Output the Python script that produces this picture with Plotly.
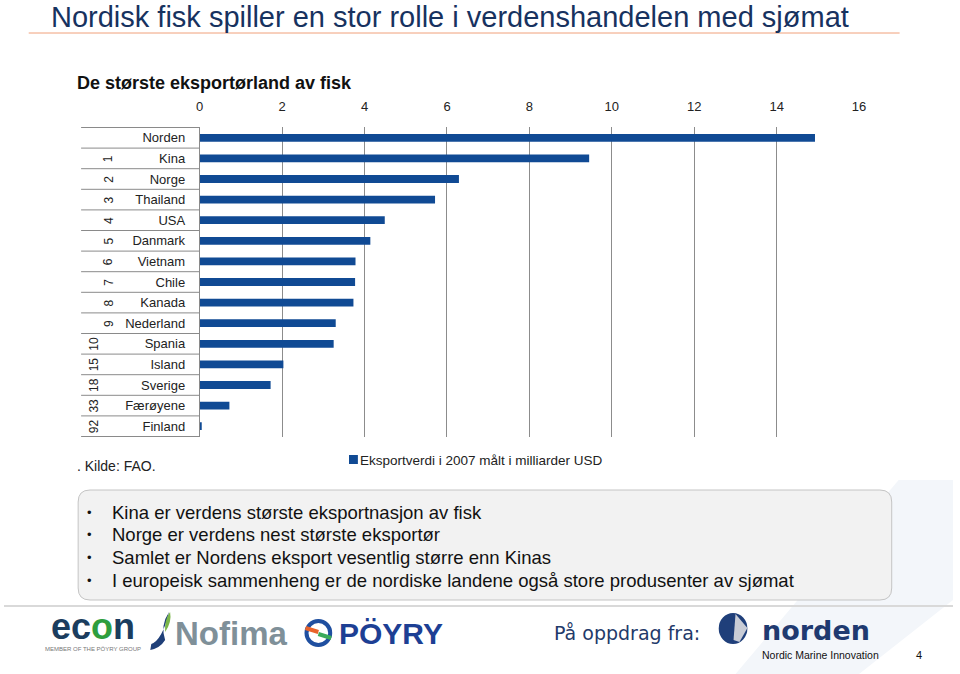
import plotly.graph_objects as go

countries = ["Norden", "Kina", "Norge", "Thailand", "USA", "Danmark", "Vietnam", "Chile",
             "Kanada", "Nederland", "Spania", "Island", "Sverige", "Færøyene", "Finland"]
ranks = ["", "1", "2", "3", "4", "5", "6", "7", "8", "9", "10", "15", "18", "33", "92"]
export_bn_usd = [14.93, 9.45, 6.29, 5.71, 4.49, 4.14, 3.78, 3.77, 3.73, 3.30, 3.25, 2.03, 1.72, 0.72, 0.04]
x_ticks = [0, 2, 4, 6, 8, 10, 12, 14, 16]
series_name = "Eksportverdi i 2007 målt i milliarder USD"
bullets = [
    "Kina er verdens største eksportnasjon av fisk",
    "Norge er verdens nest største eksportør",
    "Samlet er Nordens eksport vesentlig større enn Kinas",
    "I europeisk sammenheng er de nordiske landene også store produsenter av sjømat",
]

W, H = 960, 674
BLUE = "#104a94"
NAVY = "#17325f"
FONT = "Liberation Sans, Arial, sans-serif"

def px(x):
    return x / W

def py(y):
    return 1 - y / H

fig = go.Figure()
fig.add_trace(go.Bar(
    x=export_bn_usd, y=countries, orientation="h",
    marker=dict(color=BLUE, line=dict(width=0)),
    name=series_name, showlegend=False,
))

shapes = []
annotations = []

def text(t, x, y, size, color="#111111", family=FONT, xanchor="left", yanchor="middle", **kw):
    if xanchor == "left":
        x -= 3
    annotations.append(dict(text=t, x=px(x), y=py(y), xref="paper", yref="paper",
                            xanchor=xanchor, yanchor=yanchor, showarrow=False,
                            font=dict(family=family, size=size, color=color), **kw))

# faint background swoosh
shapes.append(dict(type="path", xref="paper", yref="paper", layer="below",
                   path=f"M {px(905)} {py(480)} L {px(960)} {py(480)} L {px(960)} {py(600)} L {px(865)} {py(674)} L {px(740)} {py(674)} Z",
                   fillcolor="#f3f6fa", line=dict(width=0)))

# title + orange rule
text("Nordisk fisk spiller en stor rolle i verdenshandelen med sjømat", 50, 0, 29, NAVY,
     yanchor="top", borderpad=0)
shapes.append(dict(type="line", xref="paper", yref="paper", x0=px(25), x1=px(906), y0=py(33), y1=py(33),
                   line=dict(color="#f0a07a", width=1)))
text("<b>De største eksportørland av fisk</b>", 75, 83, 18)

# table lines in label area
for i in range(len(countries) + 1):
    shapes.append(dict(type="line", xref="paper", yref="y", x0=px(78), x1=px(198),
                       y0=i - 0.5, y1=i - 0.5, line=dict(color="#8a8a8a", width=1)))

# rank labels
for i, r in enumerate(ranks):
    if not r:
        continue
    xc = 106 if len(r) == 1 else 91
    annotations.append(dict(text=r, x=px(xc), y=countries[i], xref="paper", yref="y",
                            textangle=-90, showarrow=False, xanchor="center", yanchor="middle",
                            font=dict(family=FONT, size=12, color="#222222")))

# source
text(". Kilde: FAO.", 75, 466, 14, "#222222")

# legend (manual)
shapes.append(dict(type="rect", xref="paper", yref="paper", x0=px(349), x1=px(358), y0=py(464), y1=py(455),
                   fillcolor=BLUE, line=dict(width=0)))
text(series_name, 361, 460, 13.5, "#222222")

# bullet box
x0b, x1b, y0b, y1b, rr = 75, 898, 490, 600, 12
path = (f"M {px(x0b + rr)} {py(y0b)} L {px(x1b - rr)} {py(y0b)} "
        f"Q {px(x1b)} {py(y0b)} {px(x1b)} {py(y0b + rr)} L {px(x1b)} {py(y1b - rr)} "
        f"Q {px(x1b)} {py(y1b)} {px(x1b - rr)} {py(y1b)} L {px(x0b + rr)} {py(y1b)} "
        f"Q {px(x0b)} {py(y1b)} {px(x0b)} {py(y1b - rr)} L {px(x0b)} {py(y0b + rr)} "
        f"Q {px(x0b)} {py(y0b)} {px(x0b + rr)} {py(y0b)} Z")
shapes.append(dict(type="path", xref="paper", yref="paper", path=path,
                   fillcolor="#f2f2f2", line=dict(color="#c4c4c4", width=1)))
for k, b in enumerate(bullets):
    yy = 512 + k * 22.7
    text("•", 86, yy, 13, xanchor="center")
    text(b, 110, yy, 18.5)

# footer
shapes.append(dict(type="line", xref="paper", yref="paper", x0=0, x1=1, y0=py(606), y1=py(606),
                   line=dict(color="#d9d9d9", width=2)))
text("<b>ec<span style='color:#2e9e3e'>o</span>n</b>", 90, 626, 36, "#1b3d5e", xanchor="center")
text("MEMBER OF THE PÖYRY GROUP", 90, 649, 6, "#777777", xanchor="center")
shapes.append(dict(type="path", xref="paper", yref="paper",
                   path=f"M {px(167)} {py(612)} Q {px(158)} {py(625)} {px(163)} {py(640)} Q {px(158)} {py(648)} {px(148)} {py(650)} L {px(149)} {py(644)} Q {px(160)} {py(640)} {px(167)} {py(612)} Z",
                   fillcolor="#1f3f78", line=dict(width=0)))
shapes.append(dict(type="path", xref="paper", yref="paper",
                   path=f"M {px(168)} {py(612)} Q {px(162)} {py(620)} {px(163)} {py(632)} Q {px(170)} {py(622)} {px(168)} {py(612)} Z",
                   fillcolor="#7ab648", line=dict(width=0)))
text("<b>Nofima</b>", 174, 633, 33, "#7f9099")
shapes.append(dict(type="circle", xref="paper", yref="paper", x0=px(306), x1=px(330), y0=py(645), y1=py(621),
                   line=dict(color="#1f4fa0", width=4)))
shapes.append(dict(type="line", xref="paper", yref="paper", x0=px(305), x1=px(318), y0=py(628), y1=py(632),
                   line=dict(color="#e8632b", width=4)))
shapes.append(dict(type="line", xref="paper", yref="paper", x0=px(318), x1=px(331), y0=py(634), y1=py(638),
                   line=dict(color="#3aaa5a", width=4)))
text("<b>PÖYRY</b>", 340, 633, 30, "#1d3f94")
text("På oppdrag fra:", 557, 633, 19, "#1f3a6a", family="DejaVu Sans, Verdana, sans-serif")
shapes.append(dict(type="circle", xref="paper", yref="paper", x0=px(723), x1=px(752), y0=py(644), y1=py(613),
                   fillcolor="#1f3f7a", line=dict(width=0)))
shapes.append(dict(type="path", xref="paper", yref="paper",
                   path=f"M {px(740)} {py(614)} L {px(752)} {py(628)} L {px(744)} {py(642)} L {px(738)} {py(640)} Z",
                   fillcolor="#c8ccd6", line=dict(width=0)))
text("<b>norden</b>", 768, 630, 27, "#1f3a70", family="DejaVu Sans, sans-serif")
text("Nordic Marine Innovation", 768, 655, 10.5, family="Liberation Sans Narrow, Liberation Sans, sans-serif")
text("4", 926, 655, 11, xanchor="center")

fig.update_layout(
    width=W, height=H,
    margin=dict(l=0, r=0, t=0, b=0),
    paper_bgcolor="white", plot_bgcolor="white",
    bargap=0.62,
    font=dict(family=FONT, color="#222222"),
    xaxis=dict(domain=[px(198), px(865)], range=[0, 16], side="top", tickvals=x_ticks,
               showgrid=True, gridcolor="#8c8c8c", gridwidth=1, zeroline=False,
               showline=False, ticks="", ticklabelstandoff=12,
               tickfont=dict(family=FONT, size=13, color="#222222"), fixedrange=True),
    yaxis=dict(domain=[py(437), py(127)], autorange="reversed", showgrid=False,
               showline=True, linecolor="#8a8a8a", linewidth=1, ticks="", ticklabelstandoff=11,
               tickfont=dict(family=FONT, size=13, color="#222222"), fixedrange=True),
    showlegend=False,
    shapes=shapes, annotations=annotations,
)

fig.write_html("out.html", config={"displayModeBar": False},
               post_script="document.body.style.margin='0';")
